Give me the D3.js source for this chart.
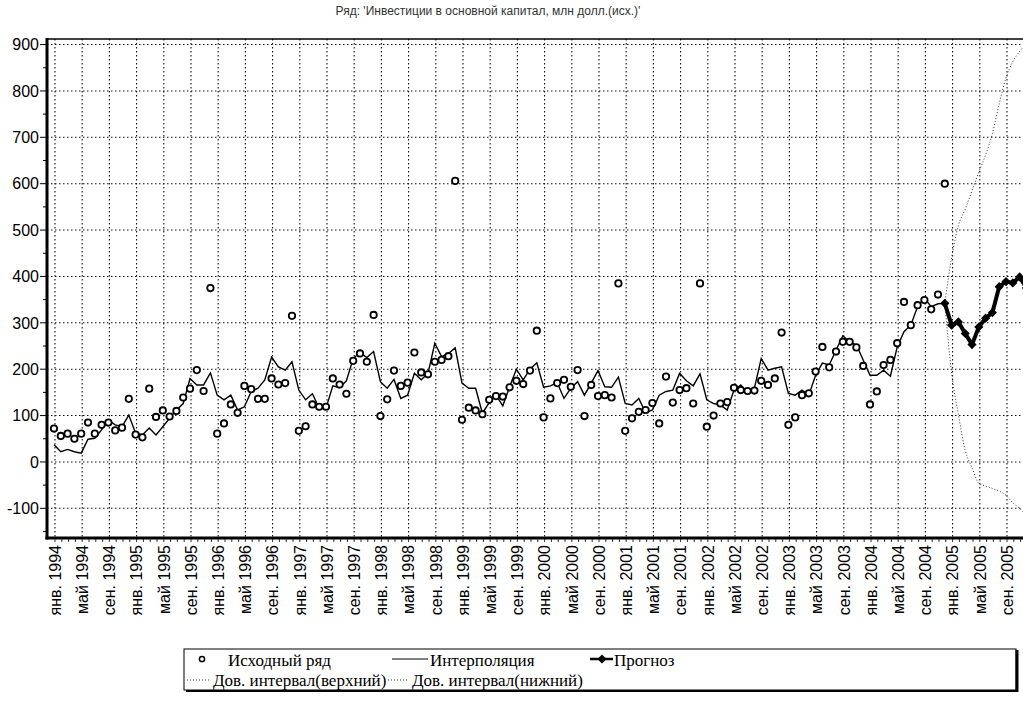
<!DOCTYPE html>
<html>
<head>
<meta charset="utf-8">
<script src="https://cdn.jsdelivr.net/npm/d3@7"></script>
<style>
  body { margin: 0; background: #fff; }
  svg { display: block; }
</style>
</head>
<body>
<svg id="chart" width="1023" height="704"></svg>
<script>
// ряд помесячно, индекс 0 = янв. 1994
const observed = [
  72, 56, 61, 50, 61, 85, 61, 80, 85, 68, 74, 136,
  59, 53, 158, 97, 111, 98, 110, 139, 158, 198, 153, 375,
  61, 83, 124, 106, 164, 157, 136, 136, 180, 167, 170, 315,
  67, 77, 124, 119, 119, 180, 167, 147, 218, 234, 216, 317,
  99, 135, 197, 164, 171, 236, 193, 189, 216, 220, 228, 606,
  91, 117, 111, 103, 134, 142, 141, 161, 175, 168, 197, 283,
  96, 137, 170, 177, 162, 198, 99, 166, 142, 144, 139, 385,
  67, 94, 108, 112, 127, 83, 184, 128, 155, 159, 126, 385,
  76, 100, 126, 129, 160, 155, 153, 154, 175, 166, 180, 279,
  80, 96, 144, 148, 195, 248, 204, 238, 259, 259, 247, 207,
  124, 152, 209, 220, 256, 345, 295, 338, 349, 329, 361, 600
]
const interpolation = [
  37, 22, 27, 22, 19, 49, 51, 69, 90, 80, 76, 101,
  62, 58, 73, 58, 76, 94, 112, 126, 180, 166, 166, 192,
  144, 134, 144, 112, 119, 152, 159, 177, 226, 205, 198, 216,
  155, 134, 147, 116, 116, 164, 160, 175, 223, 236, 225, 238,
  173, 159, 178, 137, 144, 191, 177, 191, 256, 227, 234, 246,
  170, 159, 159, 105, 128, 144, 121, 162, 200, 177, 200, 214,
  161, 164, 171, 137, 159, 173, 144, 170, 197, 162, 161, 183,
  126, 123, 137, 106, 112, 144, 152, 155, 191, 175, 164, 190,
  134, 126, 123, 112, 155, 166, 148, 159, 223, 198, 202, 205,
  148, 144, 155, 144, 187, 213, 209, 241, 272, 259, 252, 220,
  187, 187, 198, 185, 248, 281, 295, 335, 353, 335, 341, 342
]
// прогноз и доверительный интервал: с дек. 2004 (индекс 131) по дек. 2005
const forecastStart = 131
const forecast = [342, 295, 302, 277, 253, 291, 310, 322, 378, 389, 386, 399, 375]
const upperBound = [342, 440, 510, 545, 585, 625, 662, 708, 772, 828, 863, 885, 902]
const lowerBound = [342, 192, 102, 25, -12, -46, -52, -57, -63, -72, -88, -100, -115]

const yTicks = [-100, 0, 100, 200, 300, 400, 500, 600, 700, 800, 900]
const xTickIdx = d3.range(0, 141, 4)
const xTickLabels = [
  'янв. 1994', 'май 1994', 'сен. 1994', 'янв. 1995', 'май 1995', 'сен. 1995',
  'янв. 1996', 'май 1996', 'сен. 1996', 'янв. 1997', 'май 1997', 'сен. 1997',
  'янв. 1998', 'май 1998', 'сен. 1998', 'янв. 1999', 'май 1999', 'сен. 1999',
  'янв. 2000', 'май 2000', 'сен. 2000', 'янв. 2001', 'май 2001', 'сен. 2001',
  'янв. 2002', 'май 2002', 'сен. 2002', 'янв. 2003', 'май 2003', 'сен. 2003',
  'янв. 2004', 'май 2004', 'сен. 2004', 'янв. 2005', 'май 2005', 'сен. 2005'
]
const title = "Ряд:  'Инвестиции в основной капитал, млн долл.(исх.)'"

const svg = d3.select('#chart')
const plot = { left: 47, top: 39, right: 1023, bottom: 538 }

const x = d3.scaleLinear().domain([0, 143]).range([54, 54 + 6.8 * 143])
const y = d3.scaleLinear().domain([-164, 912]).range([plot.bottom, plot.top])

svg.append('defs').append('clipPath').attr('id', 'clip')
  .append('rect')
  .attr('x', plot.left).attr('y', plot.top)
  .attr('width', plot.right - plot.left).attr('height', plot.bottom - plot.top)

// title
svg.append('text')
  .attr('x', 488).attr('y', 15)
  .attr('text-anchor', 'middle')
  .style('font', '12px "Liberation Sans", Arial, sans-serif')
  .style('fill', '#333')
  .text(title)

// grid
const grid = svg.append('g').attr('clip-path', 'url(#clip)')
grid.selectAll('.hgrid').data(yTicks).join('line')
  .attr('x1', plot.left).attr('x2', plot.right)
  .attr('y1', d => y(d)).attr('y2', d => y(d))
  .attr('stroke', '#111').attr('stroke-width', 1.1)
  .attr('stroke-dasharray', '1.5,2.5')
grid.selectAll('.vgrid').data(xTickIdx).join('line')
  .attr('x1', d => x(d) + 1).attr('x2', d => x(d) + 1)
  .attr('y1', plot.top).attr('y2', plot.bottom)
  .attr('stroke', '#111').attr('stroke-width', 1.1)
  .attr('stroke-dasharray', '1.5,2.5')

// y axis
const yAxis = svg.append('g')
yAxis.selectAll('text').data(yTicks).join('text')
  .attr('x', 39).attr('y', d => y(d))
  .attr('dy', '0.36em')
  .attr('text-anchor', 'end')
  .style('font', '16px "Liberation Sans", Arial, sans-serif')
  .text(d => d)
yAxis.selectAll('line.major').data(yTicks).join('line')
  .attr('class', 'major')
  .attr('x1', 40).attr('x2', 46)
  .attr('y1', d => y(d)).attr('y2', d => y(d))
  .attr('stroke', '#000')
yAxis.selectAll('line.minor').data(d3.range(-150, 901, 50).filter(v => v % 100 !== 0)).join('line')
  .attr('class', 'minor')
  .attr('x1', 43).attr('x2', 46)
  .attr('y1', d => y(d)).attr('y2', d => y(d))
  .attr('stroke', '#000')

// x axis
const xAxis = svg.append('g')
xAxis.selectAll('line').data(d3.range(0, 144)).join('line')
  .attr('x1', d => x(d) + 1).attr('x2', d => x(d) + 1)
  .attr('y1', plot.bottom).attr('y2', plot.bottom + 4)
  .attr('stroke', '#000')
  .attr('stroke-width', 0.8)
xAxis.selectAll('text').data(xTickIdx).join('text')
  .attr('transform', d => `translate(${x(d) + 1},${plot.bottom + 7}) rotate(-90)`)
  .attr('dy', '0.36em')
  .attr('text-anchor', 'end')
  .style('font', '16px "Liberation Sans", Arial, sans-serif')
  .text((d, i) => xTickLabels[i])

// series
const series = svg.append('g').attr('clip-path', 'url(#clip)')

const ciLine = d3.line().x((d, i) => x(forecastStart + i)).y(d => y(d)).curve(d3.curveMonotoneX)
series.append('path').datum(upperBound)
  .attr('d', ciLine)
  .attr('fill', 'none').attr('stroke', '#333').attr('stroke-width', 1)
  .attr('stroke-dasharray', '1,2')
series.append('path').datum(lowerBound)
  .attr('d', ciLine)
  .attr('fill', 'none').attr('stroke', '#333').attr('stroke-width', 1)
  .attr('stroke-dasharray', '1,2')

const interpLine = d3.line().x((d, i) => x(i)).y(d => y(d))
series.append('path').datum(interpolation)
  .attr('d', interpLine)
  .attr('fill', 'none').attr('stroke', '#000').attr('stroke-width', 1.4)

series.selectAll('circle.obs').data(observed).join('circle')
  .attr('class', 'obs')
  .attr('cx', (d, i) => x(i)).attr('cy', d => y(d))
  .attr('r', 3.2)
  .attr('fill', '#fff').attr('stroke', '#000').attr('stroke-width', 1.8)

const fcLine = d3.line().x((d, i) => x(forecastStart + i)).y(d => y(d))
series.append('path').datum(forecast)
  .attr('d', fcLine)
  .attr('fill', 'none').attr('stroke', '#000').attr('stroke-width', 4)
const diamond = d3.symbol().type(d3.symbolSquare).size(42)
series.selectAll('path.diamond').data(forecast).join('path')
  .attr('class', 'diamond')
  .attr('transform', (d, i) => `translate(${x(forecastStart + i)},${y(d)}) rotate(45)`)
  .attr('d', diamond)
  .attr('fill', '#000')

// frame
svg.append('line').attr('x1', plot.left).attr('x2', plot.right)
  .attr('y1', plot.top).attr('y2', plot.top)
  .attr('stroke', '#000').attr('stroke-width', 1.5)
svg.append('line').attr('x1', plot.left).attr('x2', plot.left)
  .attr('y1', plot.top - 1).attr('y2', plot.bottom + 1.5)
  .attr('stroke', '#000').attr('stroke-width', 3)
svg.append('line').attr('x1', plot.left - 1.5).attr('x2', plot.right)
  .attr('y1', plot.bottom).attr('y2', plot.bottom)
  .attr('stroke', '#000').attr('stroke-width', 3)

// legend
const legend = svg.append('g')
legend.append('rect')
  .attr('x', 184).attr('y', 649).attr('width', 832).attr('height', 41)
  .attr('fill', '#fff').attr('stroke', '#000').attr('stroke-width', 1)
legend.append('line').attr('x1', 1017).attr('x2', 1017).attr('y1', 650).attr('y2', 692)
  .attr('stroke', '#000').attr('stroke-width', 3)
legend.append('line').attr('x1', 186).attr('x2', 1018).attr('y1', 691).attr('y2', 691)
  .attr('stroke', '#000').attr('stroke-width', 2)

const legendFont = '17px "Liberation Serif", "Times New Roman", serif'
const legendItems = [
  { label: 'Исходный ряд', type: 'circle', sx: 192, tx: 228, row: 0 },
  { label: 'Интерполяция', type: 'line', sx: 392, tx: 430, row: 0 },
  { label: 'Прогноз', type: 'forecast', sx: 590, tx: 614, row: 0 },
  { label: 'Дов. интервал(верхний)', type: 'dots', sx: 187, tx: 213, row: 1 },
  { label: 'Дов. интервал(нижний)', type: 'dots', sx: 388, tx: 412, row: 1 }
]
legendItems.forEach(it => {
  const cy = 660 + it.row * 20
  if (it.type === 'circle') {
    legend.append('circle').attr('cx', it.sx + 10).attr('cy', cy - 1).attr('r', 2.6)
      .attr('fill', '#fff').attr('stroke', '#000').attr('stroke-width', 1.5)
  } else if (it.type === 'line') {
    legend.append('line').attr('x1', it.sx).attr('x2', it.tx - 2).attr('y1', cy - 1).attr('y2', cy - 1)
      .attr('stroke', '#000').attr('stroke-width', 1.2)
  } else if (it.type === 'forecast') {
    legend.append('line').attr('x1', it.sx).attr('x2', it.tx - 1).attr('y1', cy - 1).attr('y2', cy - 1)
      .attr('stroke', '#000').attr('stroke-width', 2.5)
    legend.append('path').attr('d', diamond)
      .attr('transform', `translate(${(it.sx + it.tx) / 2},${cy - 1}) rotate(45)`)
      .attr('fill', '#000')
  } else {
    legend.append('line').attr('x1', it.sx).attr('x2', it.tx - 3).attr('y1', cy).attr('y2', cy)
      .attr('stroke', '#333').attr('stroke-width', 1).attr('stroke-dasharray', '1,2')
  }
  legend.append('text')
    .attr('x', it.tx).attr('y', cy).attr('dy', '0.35em')
    .style('font', legendFont)
    .text(it.label)
})
</script>
</body>
</html>
